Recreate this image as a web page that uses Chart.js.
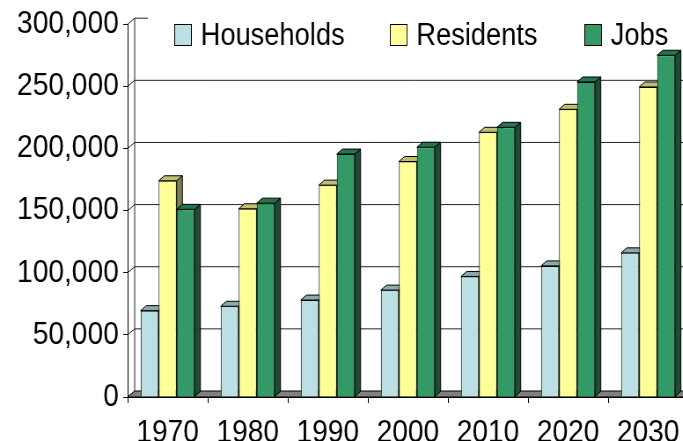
<!DOCTYPE html>
<html>
<head>
<meta charset="utf-8">
<script src="https://cdn.jsdelivr.net/npm/chart.js@4"></script>
<style>
  html, body { margin: 0; padding: 0; background: #fff; overflow: hidden; }
  #wrap { width: 790px; height: 441px; transform: scaleX(0.88); transform-origin: 0 0; }
</style>
</head>
<body>
<div id="wrap"><canvas id="c" width="790" height="441"></canvas></div>
<script>
const years = ['1970', '1980', '1990', '2000', '2010', '2020', '2030'];
const households = [69500, 73000, 78000, 86000, 97000, 105500, 116000];
const residents = [174000, 151500, 170500, 189500, 213000, 231500, 249500];
const jobs = [151000, 156000, 195500, 201000, 217000, 253500, 275000];

const front = ['#BBE0E3', '#FFFF99', '#339966'];
const caps = ['#8CA8AA', '#BFBF73', '#267350'];
const sides = ['#5E7072', '#80804D', '#1A4D33'];
const font = "'Liberation Sans', Arial, sans-serif";

// wall / floor depth and bar depth (internal px)
const wdx = 8, wdy = 6;
const bdx = 6.5, bdy = 5;

function poly(ctx, pts, fill) {
  ctx.beginPath();
  ctx.moveTo(pts[0][0], pts[0][1]);
  for (let i = 1; i < pts.length; i++) ctx.lineTo(pts[i][0], pts[i][1]);
  ctx.closePath();
  ctx.fillStyle = fill;
  ctx.fill();
  ctx.stroke();
}

const walls = {
  id: 'walls',
  beforeDraw(chart) {
    const ctx = chart.ctx;
    const a = chart.chartArea;
    const ys = chart.scales.y;
    ctx.save();
    ctx.strokeStyle = '#000';
    ctx.lineWidth = 1;
    // floor
    poly(ctx, [[a.left, a.bottom], [a.left + wdx, a.bottom - wdy], [a.right + wdx, a.bottom - wdy], [a.right, a.bottom]], '#808080');
    // back wall
    ctx.strokeStyle = '#222';
    ctx.beginPath();
    ctx.moveTo(a.left + wdx, a.bottom - wdy);
    ctx.lineTo(a.left + wdx, a.top - wdy);
    ys.ticks.forEach(t => {
      const py = ys.getPixelForValue(t.value);
      ctx.moveTo(a.left, py);
      ctx.lineTo(a.left + wdx, py - wdy);
      if (t.value > 0) {
        ctx.moveTo(a.left + wdx, py - wdy);
        ctx.lineTo(a.right + wdx, py - wdy);
      }
    });
    ctx.stroke();
    // legend background
    ctx.fillStyle = '#fff';
    ctx.fillRect(168, 8, 640, 52);
    ctx.restore();
  },
  beforeDatasetsDraw(chart) {
    const ctx = chart.ctx;
    ctx.save();
    ctx.strokeStyle = '#000';
    ctx.lineWidth = 1;
    for (let i = 0; i < years.length; i++) {
      chart.data.datasets.forEach((ds, d) => {
        const bar = chart.getDatasetMeta(d).data[i];
        const l = bar.x - bar.width / 2, r = bar.x + bar.width / 2;
        poly(ctx, [[r, bar.y], [r + bdx, bar.y - bdy], [r + bdx, bar.base - bdy], [r, bar.base]], sides[d]);
        poly(ctx, [[l, bar.y], [l + bdx, bar.y - bdy], [r + bdx, bar.y - bdy], [r, bar.y]], caps[d]);
      });
    }
    ctx.restore();
  },
  afterDraw(chart) {
    const ctx = chart.ctx;
    const boxX = [198, 443, 664];
    ctx.save();
    ctx.font = '31px ' + font;
    ctx.textBaseline = 'middle';
    chart.data.datasets.forEach((ds, d) => {
      ctx.fillStyle = ds.backgroundColor;
      ctx.strokeStyle = '#000';
      ctx.lineWidth = 1;
      ctx.fillRect(boxX[d] + 0.5, 24.5, 19, 21);
      ctx.strokeRect(boxX[d] + 0.5, 24.5, 19, 21);
      ctx.fillStyle = '#000';
      ctx.fillText(ds.label, boxX[d] + 30, 36);
    });
    ctx.restore();
  }
};

new Chart(document.getElementById('c'), {
  type: 'bar',
  data: {
    labels: years,
    datasets: [
      { label: 'Households', data: households, backgroundColor: front[0] },
      { label: 'Residents', data: residents, backgroundColor: front[1] },
      { label: 'Jobs', data: jobs, backgroundColor: front[2] }
    ]
  },
  options: {
    responsive: false,
    animation: false,
    datasets: {
      bar: { categoryPercentage: 0.675, barPercentage: 1, borderColor: '#000', borderWidth: 1 }
    },
    layout: { padding: { top: 22, right: 8, left: 0, bottom: 0 } },
    plugins: { legend: { display: false }, tooltip: { enabled: false } },
    scales: {
      x: {
        afterFit: s => { s.height = 44; },
        grid: { drawOnChartArea: false, tickLength: 6, color: '#000' },
        border: { display: true, color: '#000' },
        ticks: { font: { family: font, size: 32 }, color: '#000', padding: 11, maxRotation: 0 }
      },
      y: {
        min: 0,
        max: 300000,
        afterFit: s => { s.width = 145; },
        grid: { drawOnChartArea: false, tickLength: 5, color: '#000' },
        border: { display: true, color: '#000' },
        ticks: {
          stepSize: 50000,
          padding: 5,
          font: { family: font, size: 32 },
          color: '#000',
          callback: v => v.toLocaleString('en-US')
        }
      }
    }
  },
  plugins: [walls]
});
</script>
</body>
</html>
